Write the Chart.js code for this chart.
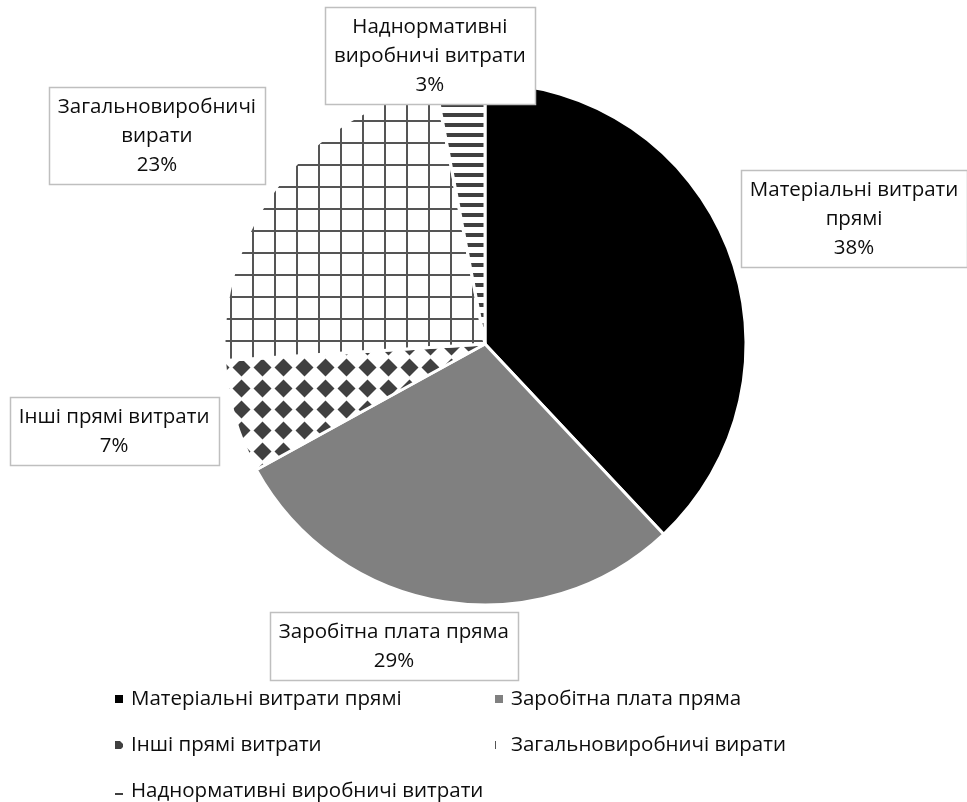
<!DOCTYPE html>
<html>
<head>
<meta charset="utf-8">
<script src="https://cdn.jsdelivr.net/npm/chart.js@4.4.1/dist/chart.umd.min.js"></script>
<style>
    html, body { margin: 0; padding: 0; background: #ffffff; }
    #wrap { width: 967px; height: 802px; }
</style>
</head>
<body>
<div id="wrap"><canvas id="costChart" width="967" height="802"></canvas></div>
<script>
// Структура витрат, %
const categories = [
    'Матеріальні витрати прямі',
    'Заробітна плата пряма',
    'Інші прямі витрати',
    'Загальновиробничі вирати',
    'Наднормативні виробничі витрати'
];
const shares = [38, 29, 7, 23, 3];

// how the data labels break into lines
const labelLines = [
    ['Матеріальні витрати', 'прямі'],
    ['Заробітна плата пряма'],
    ['Інші прямі витрати'],
    ['Загальновиробничі', 'вирати'],
    ['Наднормативні', 'виробничі витрати']
];

const FONT = '"Open Sans", "Noto Sans", sans-serif';
const TEXT_COLOR = '#0d0d0d';

// --- fill patterns ---
function makeTile(w, h, draw) {
    const c = document.createElement('canvas');
    c.width = w;
    c.height = h;
    const g = c.getContext('2d');
    g.fillStyle = '#ffffff';
    g.fillRect(0, 0, w, h);
    draw(g);
    return document.getElementById('costChart').getContext('2d').createPattern(c, 'repeat');
}

const diamondFill = makeTile(21, 21, g => {
    g.fillStyle = '#404040';
    g.beginPath();
    g.moveTo(10.5, 1.5);
    g.lineTo(19.5, 10.5);
    g.lineTo(10.5, 19.5);
    g.lineTo(1.5, 10.5);
    g.closePath();
    g.fill();
});

const gridFill = makeTile(22, 22, g => {
    g.fillStyle = '#555555';
    g.fillRect(10, 0, 2, 22);
    g.fillRect(0, 10, 22, 2);
});

const stripeFill = makeTile(10, 10, g => {
    g.fillStyle = '#404040';
    g.fillRect(0, 3, 10, 4);
});

const sliceFills = ['#000000', '#808080', diamondFill, gridFill, stripeFill];

// label box centres, in units of the pie radius from its centre
const labelOffsets = [
    [1.414, -0.479],
    [-0.349, 1.157],
    [-1.421, 0.333],
    [-1.257, -0.797],
    [-0.211, -1.107]
];

const boxLabels = {
    id: 'boxLabels',
    afterDatasetsDraw(chart) {
        const ctx = chart.ctx;
        const meta = chart.getDatasetMeta(0);
        const total = shares.reduce((a, b) => a + b, 0);
        const lineH = 29;
        ctx.save();
        ctx.font = '20.5px ' + FONT;
        ctx.textAlign = 'center';
        ctx.textBaseline = 'middle';
        meta.data.forEach((arc, i) => {
            const r = arc.outerRadius;
            const cx = arc.x + labelOffsets[i][0] * r;
            const cy = arc.y + labelOffsets[i][1] * r;
            const lines = labelLines[i].concat([Math.round(shares[i] / total * 100) + '%']);
            const w = Math.round(Math.max(...lines.map(l => ctx.measureText(l).width)) + 18);
            const h = lines.length * lineH + 10;
            const x0 = Math.round(cx - w / 2) + 0.5;
            const y0 = Math.round(cy - h / 2) + 0.5;
            ctx.fillStyle = '#ffffff';
            ctx.fillRect(x0, y0, w, h);
            ctx.strokeStyle = '#bfbfbf';
            ctx.lineWidth = 1.5;
            ctx.strokeRect(x0, y0, w, h);
            ctx.fillStyle = TEXT_COLOR;
            lines.forEach((l, j) => {
                ctx.fillText(l, cx, y0 + 5 + lineH * (j + 0.5));
            });
        });
        ctx.restore();
    }
};

// legend in two columns under the pie
const gridLegend = {
    id: 'gridLegend',
    afterDraw(chart) {
        const ctx = chart.ctx;
        const colX = [115, 495];
        const rowY = [699, 745, 791];
        ctx.save();
        ctx.font = '20.5px ' + FONT;
        ctx.textBaseline = 'middle';
        ctx.textAlign = 'left';
        categories.forEach((name, i) => {
            const x = colX[i % 2];
            const y = rowY[Math.floor(i / 2)];
            ctx.fillStyle = sliceFills[i];
            ctx.fillRect(x, y - 4, 8, 8);
            ctx.fillStyle = TEXT_COLOR;
            ctx.fillText(name, x + 16, y);
        });
        ctx.restore();
    }
};

new Chart(document.getElementById('costChart'), {
    type: 'pie',
    data: {
        labels: categories,
        datasets: [{
            data: shares,
            backgroundColor: sliceFills,
            borderColor: '#ffffff',
            borderWidth: 3
        }]
    },
    options: {
        responsive: false,
        animation: false,
        radius: 261,
        layout: {
            padding: { left: 220, right: 217, top: 79, bottom: 193 }
        },
        plugins: {
            legend: { display: false },
            tooltip: { enabled: false }
        }
    },
    plugins: [boxLabels, gridLegend]
});
</script>
</body>
</html>
